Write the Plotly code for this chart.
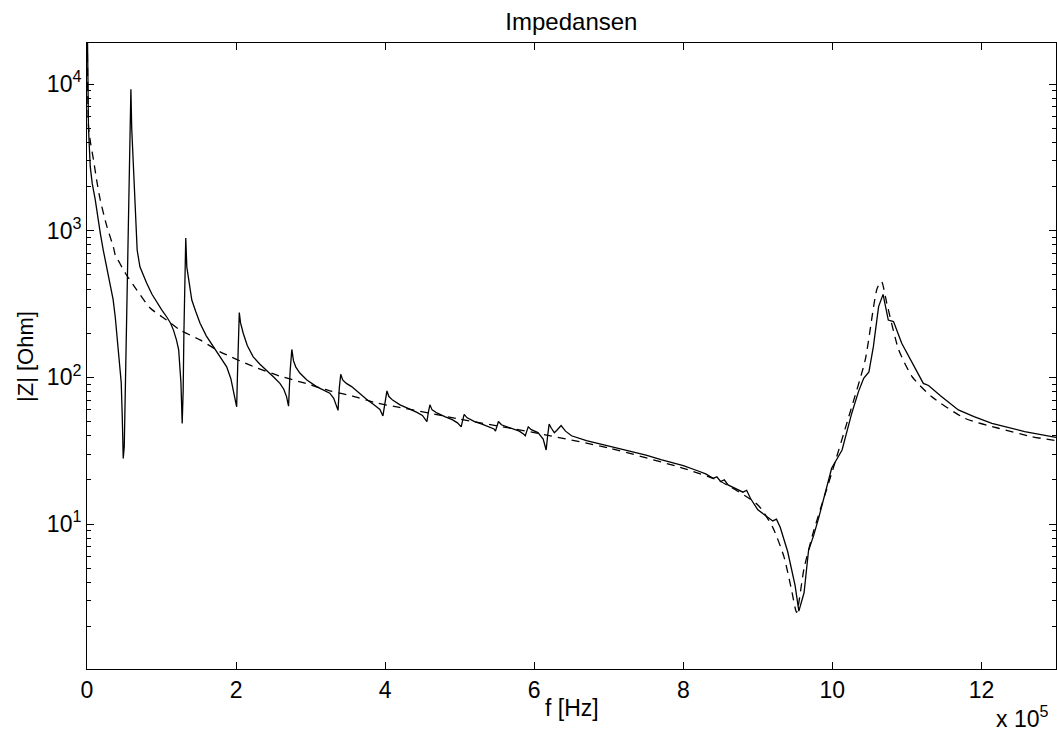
import plotly.graph_objects as go

# Frequency in units of 1e5 Hz, impedance magnitude in Ohm
meas_f = [0.003, 0.008, 0.02, 0.044, 0.07, 0.111, 0.14, 0.178, 0.218, 0.26, 0.312, 0.35, 0.379,
          0.40, 0.419, 0.44, 0.459, 0.473, 0.486,
          0.50, 0.515, 0.53, 0.553, 0.575, 0.589,
          0.60, 0.612, 0.624, 0.645, 0.673, 0.71, 0.75, 0.80, 0.87, 0.94, 1.0, 1.07, 1.12,
          1.16, 1.20, 1.23, 1.25, 1.26, 1.277,
          1.29, 1.30, 1.315, 1.325,
          1.339, 1.37, 1.406, 1.46, 1.517, 1.6, 1.695, 1.78, 1.874, 1.93, 1.963, 1.99, 2.008,
          2.02, 2.035, 2.043,
          2.06, 2.096, 2.15, 2.23, 2.32, 2.41, 2.5, 2.588, 2.64, 2.677, 2.704,
          2.725, 2.748,
          2.77, 2.80, 2.855, 2.95, 3.079, 3.18, 3.257, 3.31, 3.347, 3.368,
          3.385, 3.404,
          3.43, 3.48, 3.55, 3.65, 3.75, 3.85, 3.93, 3.97,
          3.995, 4.024,
          4.05, 4.1, 4.2, 4.3, 4.42, 4.5, 4.56, 4.58, 4.6,
          4.63, 4.7, 4.8, 4.9, 4.97, 5.02, 5.04, 5.06,
          5.1, 5.2, 5.3, 5.4, 5.46, 5.48, 5.50, 5.52,
          5.56, 5.7, 5.8, 5.86, 5.88, 5.90, 5.92,
          5.96, 6.05, 6.12, 6.16, 6.18, 6.2,
          6.23, 6.27, 6.31, 6.36,
          6.42, 6.5, 6.7, 7.0, 7.3, 7.5, 7.7, 7.9, 8.0, 8.2, 8.3, 8.4, 8.45, 8.5, 8.55, 8.6,
          8.7, 8.8, 8.85, 8.9, 9.0, 9.1, 9.2, 9.25, 9.3, 9.4, 9.5, 9.55,
          9.62, 9.68, 9.75, 9.82, 9.9, 9.99, 10.13, 10.26, 10.35, 10.42, 10.49, 10.55, 10.62, 10.68,
          10.75, 10.82, 10.93, 11.07, 11.22, 11.29, 11.45, 11.69, 11.9, 12.14, 12.58, 13.0]
meas_z = [30000, 10000, 5000, 2720, 2100, 1620, 1250, 964, 738, 580, 440, 340, 258,
          200, 154, 125, 92.5, 54, 28,
          34, 80, 250, 738, 2700, 9200,
          5000, 3500, 2720, 1500, 738, 567, 500, 440, 370, 321, 290, 258, 235,
          210, 180, 154, 119, 92.5, 48.5,
          80, 200, 500, 890,
          567, 430, 337, 280, 234, 192, 162, 140, 118, 98, 82, 70, 63,
          110, 200, 277,
          235, 200, 165, 138, 123, 112, 101, 91, 83, 74, 63.6,
          110, 155,
          130, 118, 107, 96, 86.5, 81, 78, 72, 63.6, 59.6,
          85, 105,
          96, 91, 86.5, 78, 71, 65, 60.5, 54.6,
          68, 80.8,
          74, 70, 65, 62, 58, 55, 50, 58, 65,
          60, 57, 54, 51.5, 49, 46, 51, 56,
          53, 50, 48, 46, 44.5, 43, 47, 50,
          47.5, 45, 43, 41, 40, 43, 46,
          44, 42, 38, 32, 40, 48,
          45, 42, 44, 47,
          43, 40, 37, 34, 31.5, 29.5, 27.5, 26, 25, 23, 22, 20.5, 21, 19.5, 20, 18.5,
          17.5, 16.5, 17, 15, 12.5, 11.5, 10.5, 10.8, 9.5, 6.5, 3.8, 2.55,
          3.4, 6.6, 8.4, 11.2, 16, 24, 32, 57, 80, 98.6, 109, 162, 304, 368,
          246, 240, 171, 125, 91, 88, 75, 60, 54, 48.6, 42.7, 39]

model_f = [0.004, 0.021, 0.05, 0.088, 0.13, 0.178, 0.26, 0.357, 0.379, 0.44, 0.513, 0.669, 0.847,
           1.07, 1.25, 1.517, 1.78, 2.23, 2.588, 2.90, 3.257, 3.56, 3.88, 4.19, 5.0, 6.0, 7.0,
           8.0, 8.5, 9.0, 9.2, 9.35, 9.45, 9.52,
           9.62, 9.75, 10.0, 10.22, 10.44, 10.6, 10.66, 10.73, 10.89, 11.07, 11.33,
           11.78, 12.23, 12.67, 13.0]
model_z = [20000, 5100, 3900, 3030, 2200, 1620, 1100, 763, 682, 600, 515, 394, 297,
           246, 210, 180, 150, 118.6, 102, 92, 81, 74.6, 67, 62.5, 52, 42, 33,
           24, 19.5, 13.5, 9.5, 6, 3.6, 2.5,
           5, 9, 23, 54, 131, 404, 450, 320, 154, 101, 74,
           52.5, 45, 39.5, 37]

x_ticks = [0, 2, 4, 6, 8, 10, 12]
y_ticks = [10, 100, 1000, 10000]
y_ticktext = ["10<sup>1</sup>", "10<sup>2</sup>", "10<sup>3</sup>", "10<sup>4</sup>"]
y_minor = [m * 10 ** k for k in range(0, 5) for m in range(2, 10) if m * 10 ** k < 19000]

FONT = "Liberation Sans, Arial, Helvetica, sans-serif"

fig = go.Figure()
fig.add_trace(go.Scatter(x=meas_f, y=meas_z, mode="lines",
                         line=dict(color="black", width=1.3), showlegend=False))
fig.add_trace(go.Scatter(x=model_f, y=model_z, mode="lines", line_shape="spline",
                         line=dict(color="black", width=1.3, dash="8px,6px", smoothing=0.6),
                         showlegend=False))

fig.update_layout(
    width=1057, height=732,
    margin=dict(l=87, r=1, t=43, b=63),
    paper_bgcolor="white", plot_bgcolor="white",
    font=dict(family=FONT, size=23, color="black"),
    title=dict(text="Impedansen", x=0.5406, xanchor="center", y=0.971, yanchor="middle",
               yref="container", font=dict(size=24)),
)
fig.update_xaxes(range=[0, 13], tickvals=x_ticks, ticktext=[str(t) for t in x_ticks],
                 ticks="inside", ticklen=7, tickcolor="black", showline=True, linecolor="black",
                 linewidth=1, mirror="ticks", showgrid=False, zeroline=False,
                 tickfont=dict(size=23))
fig.update_yaxes(type="log", range=[0.012, 4.2795], tickvals=y_ticks, ticktext=y_ticktext,
                 ticks="inside", ticklen=7, tickcolor="black", showline=True, linecolor="black",
                 linewidth=1, mirror="ticks", showgrid=False, zeroline=False,
                 tickfont=dict(size=23),
                 minor=dict(tickvals=y_minor, ticks="inside", ticklen=4, tickcolor="black",
                            showgrid=False))

fig.add_annotation(text="f [Hz]", xref="paper", yref="paper", x=0.5, y=-0.062,
                   xanchor="center", yanchor="middle", showarrow=False, font=dict(size=23))
fig.add_annotation(text="x 10<sup>5</sup>", xref="paper", yref="paper", x=0.994, y=-0.077,
                   xanchor="right", yanchor="middle", showarrow=False, font=dict(size=23))
fig.add_annotation(text="|Z| [Ohm]", xref="paper", yref="paper", x=-0.064, y=0.5,
                   xanchor="center", yanchor="middle", textangle=-90, showarrow=False,
                   font=dict(size=22))

fig.write_html("out.html")
